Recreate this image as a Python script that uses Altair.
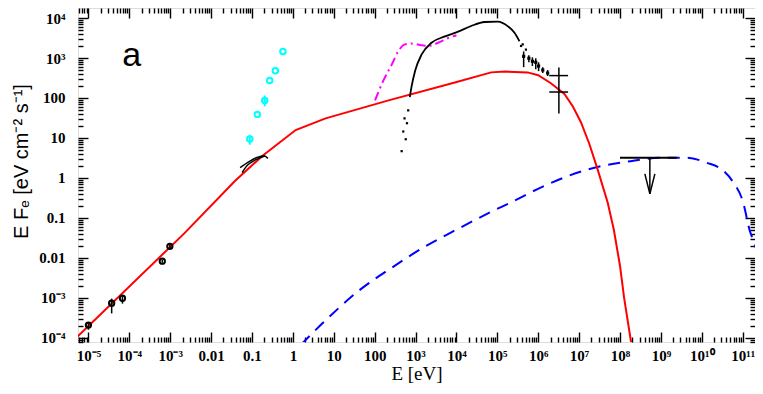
import altair as alt
import pandas as pd

# ---------------- data ----------------
# red solid model curve
red_E = [5.01e-6, 2.24e-3, 0.0372, 0.178, 1.17, 6.31, 219, 9120, 7.08e4, 1.58e5, 5.5e5, 1.0e6,
         2.04e6, 4.37e6, 7.08e6, 1.1e7, 1.78e7, 2.82e7, 5.01e7, 7.08e7, 1.0e8, 1.26e8, 1.86e8, 2.09e8]
red_F = [1.0e-4, 0.0417, 0.813, 3.55, 15.8, 30.9, 87.1, 245, 437, 457, 437, 372,
         234, 126, 60.3, 25.1, 7.08, 1.66, 0.24, 0.05, 6.3e-3, 1.0e-3, 7.9e-5, 3.2e-5]

# blue dashed model curve
blue_E = [1.58, 6.31, 40.7, 257, 1740, 1.1e4, 6.92e4, 2.14e5, 1.7e6, 1.58e7, 1.82e8, 1.17e9,
          4.37e9, 1.32e10, 3.39e10, 5.89e10, 1.02e11, 1.51e11, 2.0e11, 2.51e11]
blue_F = [6.8e-5, 2.75e-4, 1.51e-3, 5.62e-3, 0.0195, 0.0537, 0.141, 0.245, 0.692, 1.62, 2.63, 3.2,
          3.2, 2.4, 1.51, 0.776, 0.251, 0.0457, 0.0214, 7.9e-3]

# magenta dash-dot curve
mag_E = [102, 162, 263, 380, 550, 794, 1410, 2040, 3550, 6310, 1.0e4]
mag_F = [87, 269, 692, 1480, 2190, 2290, 2090, 2000, 2400, 3160, 3720]

# black X-ray spectrum (dense part) and sparse dots
xr_E = [724, 794, 977, 1410, 2450, 5250, 1.1e4, 2.29e4, 4.9e4, 1.02e5, 1.82e5, 2.63e5, 3.47e5]
xr_F = [105, 186, 479, 1230, 2400, 3470, 4570, 6310, 7940, 8130, 6170, 4270, 2630]
dot_E = [457, 575, 501, 617, 537, 661, 3.8e5, 4.17e5, 5.0e5]
dot_F = [4.68, 9.3, 14.5, 23.4, 30.9, 49, 2000, 2190, 1620]

# gamma-ray points with error bars
g_E = [4.4e5, 5.9e5, 7.2e5, 8.7e5, 1.02e6, 1.29e6, 1.7e6]
g_F = [1100, 985, 830, 780, 630, 500, 420]
g_Flo = [590, 780, 630, 525, 470, 420, 355]
g_Fhi = [1460, 1170, 1040, 985, 780, 590, 500]

# two large crosses
c_E = [3.2e6, 3.2e6]
c_Elo = [1.86e6, 1.86e6]
c_Ehi = [5.37e6, 5.37e6]
c_F = [363, 141]
c_Flo = [224, 41]
c_Fhi = [575, 224]

# cyan open circles
cy_E = [0.0883, 0.135, 0.205, 0.271, 0.372, 0.571]
cy_F = [9.4, 38.9, 87, 275, 479, 1445]
cy_errE = [0.0883, 0.205]
cy_errlo = [6.8, 62]
cy_errhi = [12.0, 115]

# black low-energy points
lo_E = [1.0e-5, 3.7e-5, 6.8e-5, 6.4e-4, 9.8e-4]
lo_F = [2.1e-4, 7.4e-4, 9.8e-4, 8.3e-3, 0.0195]
lo_Flo = [1.6e-4, 4.1e-4, 7.2e-4, 7.6e-3, 0.018]
lo_Fhi = [2.5e-4, 9.6e-4, 1.15e-3, 9.1e-3, 0.021]

# optical bow-tie curves
bowA_E = [0.0513, 0.0851, 0.132, 0.195, 0.245]
bowA_F = [1.82, 2.57, 3.24, 3.59, 3.09]
bowB_E = [0.0575, 0.0759, 0.107, 0.148, 0.209]
bowB_F = [1.36, 2.04, 2.63, 3.09, 3.59]

# upper limit
ul_Elo, ul_Ehi, ul_E = 1.0e8, 2.45e9, 5.37e8
ul_F, ul_tip = 3.2, 0.4

# axes
x_major = [1e-5, 1e-4, 1e-3, 1e-2, 1e-1, 1, 10, 100, 1e3, 1e4, 1e5, 1e6, 1e7, 1e8, 1e9, 1e10, 1e11]
x_labels = ["10⁻⁵", "10⁻⁴", "10⁻³", "0.01", "0.1", "1", "10", "100", "10³", "10⁴", "10⁵",
            "10⁶", "10⁷", "10⁸", "10⁹", "10¹⁰", "10¹¹"]
y_major = [1e-4, 1e-3, 1e-2, 1e-1, 1, 10, 100, 1e3, 1e4]
y_labels = ["10⁻⁴", "10⁻³", "0.01", "0.1", "1", "10", "100", "10³", "10⁴"]
x_dom = [5.56e-6, 2.0e11]
y_dom = [7.9e-5, 1.78e4]

x_minor = [k * 10.0 ** n for n in range(-6, 12) for k in range(2, 10)
           if x_dom[0] < k * 10.0 ** n < x_dom[1]]
y_minor = [k * 10.0 ** n for n in range(-5, 5) for k in range(2, 10)
           if y_dom[0] < k * 10.0 ** n < y_dom[1]]

W, H = 677, 334
SERIF = "Liberation Serif"
SANS = "Liberation Sans"

x_expr = "[" + ",".join("'%s'" % s for s in x_labels) + "][round(log(datum.value)/LN10)+5]"
y_expr = "[" + ",".join("'%s'" % s for s in y_labels) + "][round(log(datum.value)/LN10)+4]"

xscale = alt.Scale(type="log", domain=x_dom, nice=False)
yscale = alt.Scale(type="log", domain=y_dom, nice=False)
xaxis = alt.Axis(orient="bottom", values=x_major, labelExpr=x_expr, ticks=False, domain=False,
                 grid=False, labelFont=SERIF, labelFontSize=15, labelFontWeight="bold",
                 labelColor="black", labelPadding=6, labelOverlap=False, labelFlush=False,
                 title="E [eV]", titleFont=SERIF, titleFontSize=19, titleFontWeight="normal",
                 titleColor="black", titlePadding=1)
yaxis = alt.Axis(orient="left", values=y_major, labelExpr=y_expr, ticks=False, domain=False,
                 grid=False, labelFont=SERIF, labelFontSize=15, labelFontWeight="bold",
                 labelColor="black", labelPadding=13, labelOverlap=False, labelFlush=False,
                 title="E Fₑ  [eV cm⁻² s⁻¹]", titleFont=SANS, titleFontSize=20,
                 titleFontWeight="normal", titleColor="black", titlePadding=7, titleY=153)


def X(f="E"):
    return alt.X(f + ":Q", scale=xscale, axis=xaxis)


def Y(f="F"):
    return alt.Y(f + ":Q", scale=yscale, axis=yaxis)


layers = []

# model curves
layers.append(alt.Chart(pd.DataFrame({"E": blue_E, "F": blue_F})).mark_line(
    color="#0000FF", strokeWidth=2, strokeDash=[12, 8], clip=True, interpolate="monotone"
).encode(x=X(), y=Y()))
layers.append(alt.Chart(pd.DataFrame({"E": red_E, "F": red_F})).mark_line(
    color="#FF0000", strokeWidth=2, clip=True
).encode(x=X(), y=Y()))
layers.append(alt.Chart(pd.DataFrame({"E": mag_E, "F": mag_F})).mark_line(
    color="#FF00FF", strokeWidth=2, strokeDash=[9, 4, 2, 4], clip=True, interpolate="monotone"
).encode(x=X(), y=Y()))

# X-ray spectrum
layers.append(alt.Chart(pd.DataFrame({"E": xr_E, "F": xr_F})).mark_line(
    color="black", strokeWidth=1.8, clip=True, interpolate="monotone"
).encode(x=X(), y=Y()))
layers.append(alt.Chart(pd.DataFrame({"E": dot_E, "F": dot_F})).mark_square(
    color="black", size=5, opacity=1, clip=True
).encode(x=X(), y=Y()))

# optical bow-tie
for be, bf in ((bowA_E, bowA_F), (bowB_E, bowB_F)):
    layers.append(alt.Chart(pd.DataFrame({"E": be, "F": bf})).mark_line(
        color="black", strokeWidth=1.5, clip=True, interpolate="monotone"
    ).encode(x=X(), y=Y()))

# gamma points
gdf = pd.DataFrame({"E": g_E, "F": g_F, "Flo": g_Flo, "Fhi": g_Fhi})
layers.append(alt.Chart(gdf).mark_rule(color="black", strokeWidth=1.5).encode(
    x=X(), y=Y("Flo"), y2="Fhi:Q"))
layers.append(alt.Chart(gdf).mark_square(color="black", size=10, opacity=1).encode(
    x=X(), y=Y()))

# big crosses
cdf = pd.DataFrame({"E": c_E, "Elo": c_Elo, "Ehi": c_Ehi, "F": c_F, "Flo": c_Flo, "Fhi": c_Fhi})
layers.append(alt.Chart(cdf).mark_rule(color="black", strokeWidth=1.5).encode(
    x=X("Elo"), x2="Ehi:Q", y=Y()))
layers.append(alt.Chart(cdf).mark_rule(color="black", strokeWidth=1.5).encode(
    x=X(), y=Y("Flo"), y2="Fhi:Q"))

# cyan points
layers.append(alt.Chart(pd.DataFrame({"E": cy_errE, "Flo": cy_errlo, "Fhi": cy_errhi})).mark_rule(
    color="#00FFFF", strokeWidth=2).encode(x=X(), y=Y("Flo"), y2="Fhi:Q"))
layers.append(alt.Chart(pd.DataFrame({"E": cy_E, "F": cy_F})).mark_point(
    color="#00FFFF", filled=False, size=30, strokeWidth=2, opacity=1
).encode(x=X(), y=Y()))

# black low-energy points
ldf = pd.DataFrame({"E": lo_E, "F": lo_F, "Flo": lo_Flo, "Fhi": lo_Fhi})
layers.append(alt.Chart(ldf).mark_rule(color="black", strokeWidth=1.5).encode(
    x=X(), y=Y("Flo"), y2="Fhi:Q"))
layers.append(alt.Chart(ldf).mark_point(
    color="black", filled=False, size=28, strokeWidth=2, opacity=1
).encode(x=X(), y=Y()))

# upper limit
layers.append(alt.Chart(pd.DataFrame({"E": [ul_Elo], "E2": [ul_Ehi], "F": [ul_F]})).mark_rule(
    color="black", strokeWidth=2).encode(x=X(), x2="E2:Q", y=Y()))
layers.append(alt.Chart(pd.DataFrame({"E": [ul_E], "F": [ul_F], "F2": [ul_tip]})).mark_rule(
    color="black", strokeWidth=1.5).encode(x=X(), y=Y(), y2="F2:Q"))
layers.append(alt.Chart(pd.DataFrame({"E": [ul_E], "F": [ul_tip]})).mark_point(
    shape="M-0.25,-1L0,0L0.25,-1", size=1600, filled=False, color="black",
    strokeWidth=1.5, opacity=1).encode(x=X(), y=Y()))

# panel label
layers.append(alt.Chart(pd.DataFrame({"E": [1.15e-4], "F": [1100], "t": ["a"]})).mark_text(
    font=SANS, fontSize=34, color="black", align="center", baseline="middle"
).encode(x=X(), y=Y(), text="t:N"))

main = alt.layer(*layers)


# inward ticks: extra axes (own identical scales) moved onto the opposite edge,
# so their ticks point into the plot
def carrier(xorient, yorient, xvals, yvals, ln):
    d = pd.DataFrame({"E": x_dom, "F": y_dom})
    tick_style = dict(labels=False, ticks=True, tickSize=ln, tickWidth=1.4, tickColor="black",
                      domain=False, grid=False, title=None)
    return alt.Chart(d).mark_point(opacity=0, size=1).encode(
        x=alt.X("E:Q", scale=alt.Scale(type="log", domain=x_dom, nice=False),
                axis=alt.Axis(orient=xorient, offset=-H, values=xvals, **tick_style)),
        y=alt.Y("F:Q", scale=alt.Scale(type="log", domain=y_dom, nice=False),
                axis=alt.Axis(orient=yorient, offset=-W, values=yvals, **tick_style)),
    )


c1 = carrier("top", "right", x_major, y_major, 10)
c2 = carrier("bottom", "left", x_major, y_major, 10)
c3 = carrier("top", "right", x_minor, y_minor, 5)
c4 = carrier("bottom", "left", x_minor, y_minor, 5)

chart = alt.layer(main, c1, c2, c3, c4).resolve_scale(
    x="independent", y="independent"
).properties(
    width=W, height=H,
    autosize=alt.AutoSizeParams(type="none"),
    padding={"left": 70, "top": 0, "right": 0, "bottom": 44},
).configure_view(stroke="black", strokeWidth=2).configure(background="white")

chart.save("out.html", embed_options={"renderer": "svg", "actions": False})
